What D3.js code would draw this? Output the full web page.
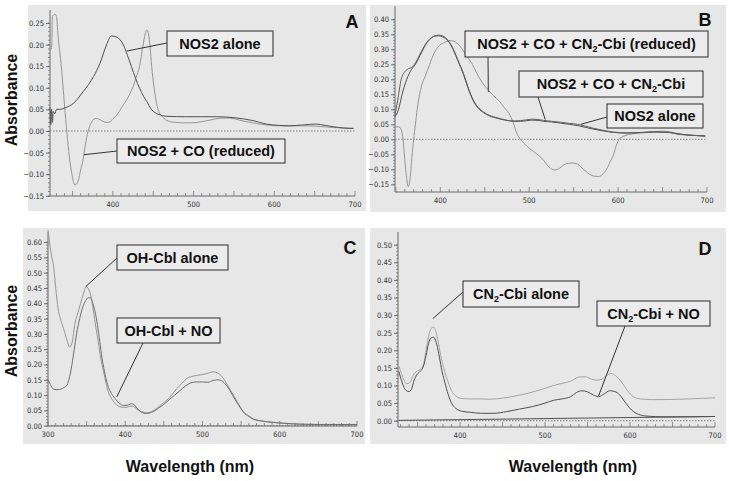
<!DOCTYPE html>
<html><head><meta charset="utf-8">
<script src="https://cdn.jsdelivr.net/npm/d3@7"></script>
<style>body{margin:0;background:#fff} svg{display:block}</style>
</head><body>
<svg id="chart" width="729" height="481"></svg>
<script>
// ---------------- DATA ----------------
// Panel A : [wavelength nm, absorbance]
const A_nos2Alone = [[322,0.055],[323,0.015],[324,0.05],[325,0.02],[326,0.045],[328,0.04],[330,0.05],[334,0.05],[340,0.053],[346,0.058],[351,0.064],[357,0.076],[363,0.091],[370,0.108],[376,0.126],[384,0.157],[392,0.199],[398,0.22],[405,0.217],[413,0.199],[418,0.175],[423,0.149],[428,0.122],[433,0.099],[438,0.08],[442,0.068],[448,0.049],[456,0.039],[467,0.034],[490,0.033],[510,0.033],[530,0.033],[549,0.031],[562,0.028],[574,0.024],[590,0.016],[605,0.013],[619,0.012],[635,0.014],[652,0.016],[663,0.013],[673,0.010],[685,0.007],[698,0.006]];
const A_nos2CO = [[322,0.19],[324,0.19],[325,0.265],[328,0.27],[330,0.265],[332,0.22],[336,0.15],[340,0.06],[343,-0.005],[346,-0.06],[349,-0.098],[353,-0.125],[357,-0.115],[360,-0.09],[363,-0.067],[366,-0.03],[369,-0.002],[373,0.018],[376,0.027],[380,0.029],[384,0.026],[388,0.022],[392,0.02],[396,0.021],[400,0.028],[405,0.037],[411,0.055],[417,0.072],[421,0.086],[425,0.103],[429,0.125],[433,0.15],[437,0.195],[440,0.225],[442,0.234],[444,0.225],[446,0.195],[448,0.15],[451,0.1],[454,0.065],[456,0.049],[461,0.034],[467,0.024],[477,0.02],[487,0.019],[500,0.019],[508,0.021],[520,0.025],[530,0.029],[540,0.03],[549,0.029],[557,0.025],[570,0.02],[590,0.014],[610,0.012],[632,0.012],[652,0.011],[673,0.008],[698,0.006]];
// Panel B
const B_nos2Alone = [[349,0.075],[353,0.1],[357,0.15],[361,0.19],[366,0.225],[372,0.25],[379,0.29],[384,0.318],[389,0.335],[394,0.345],[398,0.347],[402,0.345],[406,0.338],[411,0.32],[415,0.298],[420,0.262],[426,0.22],[431,0.175],[437,0.131],[443,0.105],[449,0.09],[455,0.08],[460,0.075],[468,0.068],[475,0.063],[483,0.06],[490,0.06],[497,0.062],[503,0.064],[510,0.063],[516,0.06],[525,0.058],[535,0.054],[545,0.05],[554,0.046],[563,0.04],[572,0.034],[583,0.028],[595,0.023],[610,0.021],[628,0.022],[640,0.024],[655,0.023],[670,0.016],[685,0.013],[698,0.011]];
const B_nos2COCbi = [[349,0.08],[352,0.13],[356,0.2],[360,0.225],[364,0.235],[368,0.24],[372,0.255],[379,0.295],[384,0.32],[389,0.337],[394,0.344],[398,0.345],[402,0.342],[406,0.335],[411,0.318],[415,0.295],[420,0.26],[426,0.216],[431,0.172],[437,0.128],[443,0.102],[449,0.088],[455,0.078],[460,0.073],[468,0.067],[475,0.063],[483,0.061],[490,0.062],[497,0.065],[503,0.067],[510,0.066],[516,0.063],[525,0.06],[535,0.057],[545,0.053],[554,0.05],[563,0.044],[572,0.037],[583,0.03],[595,0.024],[610,0.021],[628,0.023],[640,0.025],[655,0.024],[670,0.017],[685,0.013],[698,0.011]];
const B_nos2COCbiRed = [[349,0.04],[352,0.042],[355,0.038],[358,0.0],[361,-0.1],[364,-0.158],[366,-0.13],[368,-0.06],[370,0.0],[372,0.05],[374,0.1],[376,0.14],[379,0.18],[383,0.21],[388,0.25],[393,0.287],[398,0.31],[404,0.322],[411,0.329],[415,0.327],[419,0.32],[424,0.303],[430,0.276],[436,0.25],[441,0.22],[447,0.19],[454,0.164],[460,0.145],[467,0.125],[472,0.105],[477,0.087],[482,0.055],[486,0.02],[490,0.0],[494,-0.013],[500,-0.03],[505,-0.041],[511,-0.055],[516,-0.069],[520,-0.085],[524,-0.097],[529,-0.102],[534,-0.097],[539,-0.085],[544,-0.08],[549,-0.079],[554,-0.082],[558,-0.092],[563,-0.105],[568,-0.117],[573,-0.123],[578,-0.124],[583,-0.115],[587,-0.1],[591,-0.075],[595,-0.05],[598,-0.02],[601,0.0],[606,0.01],[612,0.016],[620,0.02],[628,0.023],[640,0.026],[650,0.027],[658,0.025],[666,0.02],[680,0.014],[698,0.011]];
// Panel C
const C_ohCblAlone = [[300,0.64],[301,0.62],[302,0.6],[305,0.55],[307,0.525],[310,0.45],[313,0.383],[316,0.35],[320,0.318],[324,0.285],[328,0.257],[331,0.27],[335,0.335],[340,0.38],[344,0.416],[347,0.44],[349,0.454],[351,0.452],[354,0.438],[357,0.405],[359,0.372],[362,0.32],[365,0.275],[368,0.225],[372,0.176],[375,0.14],[378,0.111],[382,0.09],[385,0.078],[389,0.068],[393,0.062],[398,0.06],[402,0.06],[406,0.064],[410,0.064],[414,0.056],[419,0.048],[424,0.044],[428,0.042],[434,0.046],[441,0.057],[447,0.07],[454,0.084],[460,0.1],[467,0.122],[474,0.14],[480,0.155],[488,0.162],[497,0.166],[505,0.17],[514,0.176],[520,0.172],[527,0.155],[533,0.13],[540,0.1],[547,0.07],[553,0.046],[560,0.032],[566,0.022],[575,0.016],[583,0.013],[595,0.01],[605,0.008],[626,0.005],[650,0.004],[700,0.004]];
const C_ohCblNO = [[300,0.15],[303,0.135],[306,0.122],[309,0.118],[313,0.118],[317,0.12],[321,0.125],[324,0.13],[327,0.15],[331,0.2],[334,0.25],[337,0.3],[341,0.35],[344,0.38],[348,0.405],[352,0.418],[355,0.418],[358,0.4],[361,0.372],[364,0.33],[367,0.275],[370,0.22],[374,0.166],[377,0.135],[380,0.115],[384,0.098],[387,0.088],[392,0.074],[398,0.066],[404,0.068],[408,0.072],[411,0.07],[415,0.058],[420,0.046],[426,0.04],[431,0.041],[437,0.047],[443,0.057],[450,0.07],[457,0.085],[464,0.1],[471,0.115],[478,0.13],[485,0.14],[492,0.143],[500,0.143],[507,0.142],[514,0.148],[520,0.15],[526,0.145],[533,0.125],[540,0.095],[547,0.066],[553,0.044],[560,0.03],[566,0.021],[575,0.016],[583,0.013],[595,0.01],[605,0.008],[626,0.005],[650,0.004],[700,0.004]];
// Panel D
const D_cn2CbiAlone = [[328,0.155],[331,0.135],[334,0.115],[337,0.105],[341,0.108],[345,0.13],[349,0.14],[353,0.145],[357,0.16],[360,0.2],[363,0.24],[366,0.262],[369,0.266],[372,0.25],[375,0.215],[378,0.177],[382,0.14],[386,0.11],[390,0.085],[395,0.07],[400,0.064],[410,0.062],[420,0.062],[435,0.061],[450,0.064],[465,0.07],[480,0.078],[495,0.088],[510,0.1],[520,0.106],[530,0.112],[540,0.124],[547,0.125],[553,0.12],[560,0.115],[566,0.117],[572,0.128],[578,0.134],[583,0.128],[590,0.11],[597,0.085],[604,0.068],[612,0.062],[625,0.06],[640,0.06],[660,0.061],[680,0.063],[700,0.065]];
const D_cn2CbiNO = [[328,0.14],[331,0.115],[334,0.095],[337,0.085],[340,0.083],[343,0.09],[346,0.115],[349,0.13],[353,0.14],[357,0.155],[360,0.185],[363,0.22],[366,0.235],[369,0.237],[372,0.222],[375,0.19],[378,0.15],[382,0.11],[386,0.075],[390,0.05],[395,0.035],[402,0.027],[412,0.024],[425,0.021],[440,0.021],[455,0.026],[470,0.033],[485,0.04],[500,0.05],[510,0.058],[520,0.062],[530,0.068],[537,0.08],[543,0.085],[550,0.082],[557,0.073],[563,0.068],[570,0.077],[576,0.085],[582,0.083],[588,0.073],[595,0.05],[602,0.03],[610,0.018],[620,0.013],[640,0.011],[670,0.011],[700,0.012]];
const D_baseline = [[328,0.001],[400,0.003],[500,0.006],[600,0.009],[700,0.012]];

// Tick labels
const A_yTicks = [-0.15,-0.10,-0.05,0.00,0.05,0.10,0.15,0.20,0.25];
const B_yTicks = [-0.15,-0.10,-0.05,0.00,0.05,0.10,0.15,0.20,0.25,0.30,0.35,0.40];
const C_yTicks = [0.00,0.05,0.10,0.15,0.20,0.25,0.30,0.35,0.40,0.45,0.50,0.55,0.60];
const D_yTicks = [0.00,0.05,0.10,0.15,0.20,0.25,0.30,0.35,0.40,0.45,0.50];
const ABD_xTicks = [400,500,600,700];
const C_xTicks = [300,400,500,600,700];

// Labels
const panelLetters = ["A","B","C","D"];
const yTitle = "Absorbance";
const xTitle = "Wavelength (nm)";

// ---------------- DRAW ----------------
const svg = d3.select("#chart");
const DARK = "#505050", LIGHT = "#959595";

function drawPanel(cfg) {
  const g = svg.append("g");
  g.append("rect").attr("x", cfg.bg[0]).attr("y", cfg.bg[1])
    .attr("width", cfg.bg[2]).attr("height", cfg.bg[3]).attr("fill", "#e7e7e7");
  const x = d3.scaleLinear().domain(cfg.xd).range(cfg.xr);
  const y = d3.scaleLinear().domain(cfg.yd).range(cfg.yr);
  const axCol = "#6a6a6a";
  g.append("line").attr("x1", x(cfg.xd[0])).attr("x2", x(cfg.xd[1]))
    .attr("y1", y(0)).attr("y2", y(0))
    .attr("stroke", "#777").attr("stroke-width", 0.9).attr("stroke-dasharray", "1.5,1.5");
  const yAx = d3.axisLeft(y).tickValues(cfg.yTicks).tickFormat(d3.format(".2f")).tickSize(4).tickPadding(2);
  const ya = g.append("g").attr("transform", `translate(${cfg.xr[0]},0)`).call(yAx);
  ya.select(".domain").remove();
  ya.selectAll("line").attr("stroke", axCol);
  ya.selectAll("text").attr("font-family", "Liberation Sans Narrow, DejaVu Sans Condensed, sans-serif")
    .attr("font-size", 7.5).attr("fill", "#333");
  g.append("line").attr("x1", cfg.xr[0]).attr("x2", cfg.xr[0]).attr("y1", cfg.yAxTop).attr("y2", cfg.xAxY)
    .attr("stroke", axCol);
  const ymin = d3.range(Math.ceil(cfg.yd[0]*100), Math.floor(cfg.yd[1]*100)+1).map(v => v/100);
  g.selectAll(null).data(ymin).join("line")
    .attr("x1", cfg.xr[0]-2).attr("x2", cfg.xr[0]).attr("y1", d => y(d)).attr("y2", d => y(d))
    .attr("stroke", axCol).attr("stroke-width", 0.7);
  g.append("line").attr("x1", cfg.xr[0]).attr("x2", cfg.xr[1]).attr("y1", cfg.xAxY).attr("y2", cfg.xAxY)
    .attr("stroke", axCol);
  const xmin = d3.range(Math.ceil(cfg.xd[0]/10)*10, cfg.xd[1]+1, 10);
  g.selectAll(null).data(xmin).join("line")
    .attr("x1", d => x(d)).attr("x2", d => x(d)).attr("y1", cfg.xAxY).attr("y2", d => cfg.xAxY - (d % 50 === 0 ? 5 : 3))
    .attr("stroke", axCol).attr("stroke-width", 0.7);
  g.selectAll(null).data(cfg.xTicks).join("text")
    .attr("x", d => x(d)).attr("y", cfg.xAxY + 11).attr("text-anchor", "middle")
    .attr("font-family", "Liberation Sans Narrow, DejaVu Sans Condensed, sans-serif")
    .attr("font-size", 7.5).attr("fill", "#333").text(d => d);
  const line = d3.line().x(d => x(d[0])).y(d => y(d[1])).curve(d3.curveMonotoneX);
  cfg.series.forEach(s => {
    g.append("path").datum(s.data).attr("d", line).attr("fill", "none")
      .attr("stroke", s.color).attr("stroke-width", s.w || 1.0).attr("stroke-linejoin", "round");
  });
  cfg.notes.forEach(n => {
    const [bx, by, bw, bh] = n.box;
    g.append("line").attr("x1", n.from[0]).attr("y1", n.from[1])
      .attr("x2", x(n.to[0])).attr("y2", y(n.to[1])).attr("stroke", "#333").attr("stroke-width", 1);
    g.append("rect").attr("x", bx).attr("y", by).attr("width", bw).attr("height", bh)
      .attr("fill", "#ececec").attr("stroke", "#4a4a4a").attr("stroke-width", 1.2);
    const t = g.append("text").attr("x", bx + bw/2).attr("y", by + bh/2 + 5)
      .attr("text-anchor", "middle").attr("font-family", "Liberation Sans, Arial, sans-serif")
      .attr("font-weight", "bold").attr("font-size", 14.5).attr("fill", "#111");
    n.label.split("_2").forEach((part, i) => {
      if (i > 0) t.append("tspan").attr("font-size", 9).attr("dy", 3).text("2");
      t.append("tspan").attr("dy", i > 0 ? -3 : 0).text(part);
    });
  });
  g.append("text").attr("x", cfg.letterPos[0]).attr("y", cfg.letterPos[1]).attr("text-anchor", "middle")
    .attr("font-family", "Liberation Sans, Arial, sans-serif").attr("font-weight", "bold")
    .attr("font-size", 18).attr("fill", "#111").text(cfg.letter);
}

drawPanel({
  letter: panelLetters[0], letterPos: [352, 28],
  bg: [28, 5, 338, 206],
  xd: [322, 700], xr: [50, 355], yd: [-0.15, 0.25], yr: [195.8, 23],
  yAxTop: 10, xAxY: 196, yTicks: A_yTicks, xTicks: ABD_xTicks,
  series: [{data: A_nos2CO, color: LIGHT}, {data: A_nos2Alone, color: DARK}],
  notes: [
    {label: "NOS2 alone", box: [167, 31, 106, 25], from: [167, 43], to: [417, 0.185]},
    {label: "NOS2 + CO (reduced)", box: [117, 139, 168, 24], from: [117, 151], to: [364, -0.055]}
  ]
});
drawPanel({
  letter: panelLetters[1], letterPos: [705, 26],
  bg: [370, 5, 356, 207],
  xd: [349, 700], xr: [395, 707], yd: [-0.15, 0.40], yr: [184.3, 19.3],
  yAxTop: 6, xAxY: 192, yTicks: B_yTicks, xTicks: ABD_xTicks,
  series: [{data: B_nos2COCbiRed, color: LIGHT}, {data: B_nos2Alone, color: DARK}, {data: B_nos2COCbi, color: "#5e5e5e"}],
  notes: [
    {label: "NOS2 + CO + CN_2-Cbi (reduced)", box: [465, 31, 243, 26], from: [488, 57], to: [454, 0.158]},
    {label: "NOS2 + CO + CN_2-Cbi", box: [519, 71, 184, 26], from: [538, 97], to: [518, 0.066]},
    {label: "NOS2 alone", box: [607, 104, 96, 24], from: [607, 117], to: [558, 0.05]}
  ]
});
drawPanel({
  letter: panelLetters[2], letterPos: [350, 254],
  bg: [23, 228, 342, 216],
  xd: [300, 700], xr: [48, 357], yd: [0, 0.60], yr: [425.7, 242.1],
  yAxTop: 232, xAxY: 426, yTicks: C_yTicks, xTicks: C_xTicks,
  series: [{data: C_ohCblAlone, color: LIGHT}, {data: C_ohCblNO, color: "#6e6e6e"}],
  notes: [
    {label: "OH-Cbl alone", box: [117, 245, 111, 25], from: [117, 258], to: [349, 0.455]},
    {label: "OH-Cbl + NO", box: [117, 318, 103, 25], from: [143, 343], to: [389, 0.094]}
  ]
});
drawPanel({
  letter: panelLetters[3], letterPos: [705, 255],
  bg: [370, 228, 356, 216],
  xd: [327, 700], xr: [398, 715], yd: [0, 0.50], yr: [420.7, 244.7],
  yAxTop: 232, xAxY: 427, yTicks: D_yTicks, xTicks: ABD_xTicks,
  series: [{data: D_baseline, color: DARK, w: 1}, {data: D_cn2CbiAlone, color: "#a5a5a5"}, {data: D_cn2CbiNO, color: DARK}],
  notes: [
    {label: "CN_2-Cbi alone", box: [463, 281, 116, 26], from: [463, 292], to: [368, 0.29]},
    {label: "CN_2-Cbi + NO", box: [597, 301, 113, 25], from: [625, 326], to: [563, 0.07]}
  ]
});

function title(txt, x, y, rot) {
  svg.append("text").attr("transform", `translate(${x},${y})` + (rot ? " rotate(-90)" : ""))
    .attr("text-anchor", "middle").attr("font-family", "Liberation Sans, Arial, sans-serif")
    .attr("font-weight", "bold").attr("font-size", 16).attr("fill", "#111").text(txt);
}
title(yTitle, 17, 100, true);
title(yTitle, 17, 331, true);
title(xTitle, 190, 472, false);
title(xTitle, 573, 472, false);
</script>
</body></html>
